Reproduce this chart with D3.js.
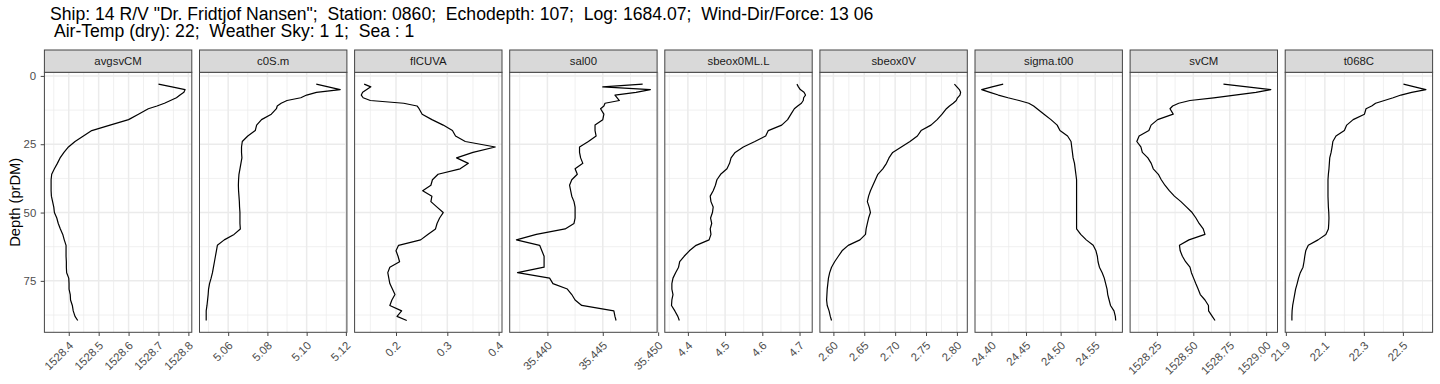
<!DOCTYPE html>
<html><head><meta charset="utf-8">
<script src="https://cdn.jsdelivr.net/npm/d3@7"></script>
<style>
body{margin:0;background:#fff;}
svg{display:block;font-family:"Liberation Sans",Arial,Helvetica,sans-serif;}
</style></head><body>
<svg id="chart" width="1440" height="384"></svg>
<script>
// ---------------- data ----------------
const titleLines = [
  'Ship: 14 R/V "Dr. Fridtjof Nansen";  Station: 0860;  Echodepth: 107;  Log: 1684.07;  Wind-Dir/Force: 13 06',
  ' Air-Temp (dry): 22;  Weather Sky: 1 1;  Sea : 1'
];
const yLabel = "Depth (prDM)";
const variables = ["avgsvCM","c0S.m","flCUVA","sal00","sbeox0ML.L","sbeox0V","sigma.t00","svCM","t068C"];

const depth = [3,4,5,6,7,8,9,10,11,12,14,16,18,20,22,24,26,28,30,32,34,36,38,40,42,44,46,48,50,52,54,56,58,60,62,64,66,68,70,72,74,76,78,80,82,84,86,88,89.5];

const avgsvCM = [1528.700,1528.745,1528.789,1528.785,1528.772,1528.760,1528.740,1528.720,1528.695,1528.666,
  1528.633,1528.600,1528.538,1528.477,1528.449,1528.421,1528.399,1528.384,1528.371,1528.362,
  1528.352,1528.343,1528.341,1528.341,1528.341,1528.342,1528.346,1528.350,1528.352,1528.360,
  1528.365,1528.372,1528.380,1528.385,1528.391,1528.391,1528.391,1528.392,1528.392,1528.393,
  1528.400,1528.401,1528.401,1528.405,1528.406,1528.412,1528.415,1528.421,1528.430];

const c0S_m = [5.1049,5.1110,5.1171,5.1050,5.1000,5.0970,5.0900,5.0870,5.0850,5.0846,
  5.0820,5.0770,5.0745,5.0738,5.0700,5.0672,5.0668,5.0668,5.0670,5.0665,
  5.0660,5.0655,5.0653,5.0652,5.0653,5.0655,5.0657,5.0658,5.0660,5.0660,
  5.0660,5.0662,5.0630,5.0580,5.0545,5.0540,5.0535,5.0530,5.0525,5.0520,
  5.0513,5.0505,5.0500,5.0498,5.0495,5.0492,5.0488,5.0488,5.0488];

const flCUVA = [0.138,0.151,0.143,0.135,0.1324,0.136,0.150,0.215,0.241,0.245,
  0.251,0.270,0.292,0.310,0.316,0.335,0.3935,0.350,0.318,0.341,
  0.325,0.282,0.271,0.268,0.252,0.270,0.268,0.280,0.292,0.285,
  0.280,0.277,0.262,0.248,0.205,0.200,0.204,0.207,0.188,0.184,
  0.186,0.188,0.193,0.198,0.192,0.188,0.211,0.202,0.221];

const sal00 = [35.4486,35.4450,35.4493,35.4480,35.4461,35.4463,35.4465,35.4452,35.4451,35.4448,
  35.4451,35.4450,35.4443,35.4443,35.4444,35.4437,35.4429,35.4429,35.4430,35.4432,
  35.4425,35.4427,35.4422,35.4420,35.4421,35.4422,35.4424,35.4425,35.4425,35.4425,
  35.4424,35.4416,35.4390,35.4372,35.4393,35.4395,35.4397,35.4397,35.4397,35.4373,
  35.4402,35.4405,35.4418,35.4422,35.4425,35.4431,35.4460,35.4461,35.4462];

const sbeox0ML_L = [4.693,4.697,4.702,4.712,4.716,4.711,4.710,4.705,4.695,4.686,
  4.677,4.668,4.652,4.616,4.609,4.580,4.549,4.527,4.516,4.512,
  4.505,4.488,4.478,4.474,4.468,4.460,4.462,4.468,4.466,4.461,
  4.464,4.460,4.462,4.457,4.422,4.404,4.390,4.378,4.375,4.367,
  4.360,4.357,4.357,4.360,4.357,4.356,4.365,4.373,4.377];

const sbeox0V = [2.796,2.800,2.804,2.806,2.805,2.801,2.799,2.794,2.788,2.783,
  2.776,2.768,2.758,2.742,2.736,2.724,2.710,2.696,2.690,2.686,
  2.680,2.672,2.668,2.664,2.660,2.657,2.655,2.658,2.660,2.657,
  2.655,2.653,2.652,2.643,2.624,2.614,2.608,2.602,2.597,2.594,
  2.592,2.591,2.590,2.5895,2.589,2.590,2.593,2.595,2.597];

const sigma_t00 = [24.417,24.401,24.386,24.398,24.410,24.424,24.440,24.454,24.461,24.466,
  24.476,24.486,24.495,24.499,24.510,24.515,24.516,24.517,24.518,24.520,
  24.521,24.522,24.523,24.523,24.523,24.523,24.523,24.523,24.523,24.523,
  24.523,24.523,24.529,24.537,24.547,24.551,24.553,24.554,24.556,24.560,
  24.563,24.565,24.567,24.568,24.570,24.572,24.577,24.579,24.5795];

const svCM = [1528.707,1528.870,1529.032,1528.930,1528.785,1528.640,1528.477,1528.400,1528.358,1528.340,
  1528.362,1528.255,1528.210,1528.195,1528.128,1528.112,1528.140,1528.150,1528.188,1528.211,
  1528.225,1528.260,1528.280,1528.305,1528.335,1528.370,1528.415,1528.454,1528.492,1528.518,
  1528.540,1528.568,1528.580,1528.470,1528.405,1528.410,1528.425,1528.447,1528.477,1528.487,
  1528.502,1528.517,1528.533,1528.548,1528.580,1528.604,1528.605,1528.630,1528.649];

const t068C = [22.503,22.560,22.618,22.545,22.490,22.450,22.405,22.360,22.340,22.311,
  22.303,22.245,22.212,22.200,22.157,22.141,22.137,22.132,22.125,22.123,
  22.121,22.118,22.116,22.116,22.116,22.116,22.117,22.118,22.120,22.121,
  22.120,22.118,22.105,22.065,22.015,22.002,21.997,21.993,21.988,21.974,
  21.965,21.958,21.950,21.945,21.940,21.935,21.932,21.931,21.931];

const ticks_avgsvCM = ["1528.4","1528.5","1528.6","1528.7","1528.8"];
const ticks_c0S_m = ["5.06","5.08","5.10","5.12"];
const ticks_flCUVA = ["0.2","0.3","0.4"];
const ticks_sal00 = ["35.440","35.445","35.450"];
const ticks_sbeox0ML_L = ["4.4","4.5","4.6","4.7"];
const ticks_sbeox0V = ["2.60","2.65","2.70","2.75","2.80"];
const ticks_sigma_t00 = ["24.40","24.45","24.50","24.55"];
const ticks_svCM = ["1528.25","1528.50","1528.75","1529.00"];
const ticks_t068C = ["21.9","22.1","22.3","22.5"];
const ticks_depth = ["0","25","50","75"];

const series = [avgsvCM,c0S_m,flCUVA,sal00,sbeox0ML_L,sbeox0V,sigma_t00,svCM,t068C];
const xTicks = [ticks_avgsvCM,ticks_c0S_m,ticks_flCUVA,ticks_sal00,ticks_sbeox0ML_L,ticks_sbeox0V,ticks_sigma_t00,ticks_svCM,ticks_t068C];

// ---------------- layout ----------------
const L = {left:44.4, step:155.1, width:147.4, stripTop:50, top:72.3, bottom:332.3};
const C = {grid:"#EBEBEB", border:"#444444", strip:"#D9D9D9", tickText:"#4D4D4D"};
const FS = {title:17.6, axisTitle:14.7, small:11.4};

const svg = d3.select("#chart");
svg.append("rect").attr("width",1440).attr("height",384).attr("fill","#fff");

function expand(ext){ const r = ext[1]-ext[0]; return [ext[0]-0.05*r, ext[1]+0.05*r]; }
function minorsOf(majors, dom){
  const st = majors[1]-majors[0];
  const out = [majors[0]-st/2];
  for (let k=0;k<majors.length-1;k++) out.push((majors[k]+majors[k+1])/2);
  out.push(majors[majors.length-1]+st/2);
  const lo = Math.min(dom[0],dom[1]), hi = Math.max(dom[0],dom[1]);
  return out.filter(v => v>=lo && v<=hi);
}

const y = d3.scaleLinear().domain(expand(d3.extent(depth))).range([L.top, L.bottom]);
const yMajors = ticks_depth.map(Number);
const yMinors = minorsOf(yMajors, y.domain());

// title: two lines
const title = svg.append("text").attr("x",50).attr("y",19.6)
  .attr("font-size",FS.title).attr("fill","#000").attr("xml:space","preserve").style("white-space","pre");
titleLines.forEach((t,k)=>{
  title.append("tspan").attr("x",50).attr("y",19.6 + k*17.7).text(t);
});

variables.forEach((name,i)=>{
  const x0 = L.left + i*L.step;
  const vals = series[i];
  const x = d3.scaleLinear().domain(expand(d3.extent(vals))).range([x0, x0+L.width]);
  const majors = xTicks[i].map(Number);
  const minors = minorsOf(majors, x.domain());
  const g = svg.append("g");

  g.append("rect").attr("x",x0).attr("y",L.top).attr("width",L.width).attr("height",L.bottom-L.top).attr("fill","#fff");

  // grid
  const grid = g.append("g").attr("stroke",C.grid).attr("fill","none");
  grid.selectAll(".ymin").data(yMinors).join("line").attr("class","ymin")
    .attr("x1",x0).attr("x2",x0+L.width).attr("y1",d=>y(d)).attr("y2",d=>y(d)).attr("stroke-width",0.75);
  grid.selectAll(".xmin").data(minors).join("line").attr("class","xmin")
    .attr("y1",L.top).attr("y2",L.bottom).attr("x1",d=>x(d)).attr("x2",d=>x(d)).attr("stroke-width",0.75);
  grid.selectAll(".ymaj").data(yMajors).join("line").attr("class","ymaj")
    .attr("x1",x0).attr("x2",x0+L.width).attr("y1",d=>y(d)).attr("y2",d=>y(d)).attr("stroke-width",1.5);
  grid.selectAll(".xmaj").data(majors).join("line").attr("class","xmaj")
    .attr("y1",L.top).attr("y2",L.bottom).attr("x1",d=>x(d)).attr("x2",d=>x(d)).attr("stroke-width",1.5);

  // data path (in depth order, like geom_path)
  const line = d3.line().x((d,j)=>x(vals[j])).y((d,j)=>y(depth[j]));
  g.append("path").datum(depth).attr("d",line).attr("fill","none")
    .attr("stroke","#000").attr("stroke-width",1.2).attr("stroke-linejoin","round");

  // border
  g.append("rect").attr("x",x0).attr("y",L.top).attr("width",L.width).attr("height",L.bottom-L.top)
    .attr("fill","none").attr("stroke",C.border).attr("stroke-width",1);

  // strip
  g.append("rect").attr("x",x0).attr("y",L.stripTop).attr("width",L.width).attr("height",L.top-L.stripTop)
    .attr("fill",C.strip).attr("stroke",C.border).attr("stroke-width",1);
  g.append("text").attr("x",x0+L.width/2).attr("y",(L.stripTop+L.top)/2).attr("dy","0.35em")
    .attr("text-anchor","middle").attr("font-size",FS.small).attr("fill","#1A1A1A").text(name);

  // x axis
  const ax = g.append("g").attr("transform",`translate(0,${L.bottom})`)
    .call(d3.axisBottom(x).tickValues(majors).tickFormat((d,k)=>xTicks[i][k]).tickSize(3.7).tickSizeOuter(0));
  ax.attr("font-size",null).attr("font-family",null);
  ax.select(".domain").remove();
  ax.selectAll(".tick line").attr("stroke",C.border).attr("stroke-width",1);
  ax.selectAll(".tick text").attr("x",0).attr("y",0).attr("dy","0.71em")
    .attr("text-anchor","end").attr("transform","translate(-1,8.2) rotate(-45)")
    .attr("fill",C.tickText).attr("font-size",FS.small);

  if (i===0){
    const ay = g.append("g").attr("transform",`translate(${x0},0)`)
      .call(d3.axisLeft(y).tickValues(yMajors).tickFormat((d,k)=>ticks_depth[k]).tickSize(3.7).tickPadding(4.5).tickSizeOuter(0));
    ay.attr("font-size",null).attr("font-family",null);
    ay.select(".domain").remove();
    ay.selectAll(".tick line").attr("stroke",C.border).attr("stroke-width",1);
    ay.selectAll(".tick text").attr("fill",C.tickText).attr("font-size",FS.small);
  }
});

// y-axis title
svg.append("text").attr("transform",`translate(19.5,${(L.top+L.bottom)/2}) rotate(-90)`)
  .attr("text-anchor","middle").attr("font-size",FS.axisTitle).attr("fill","#000").text(yLabel);
</script>
</body></html>
